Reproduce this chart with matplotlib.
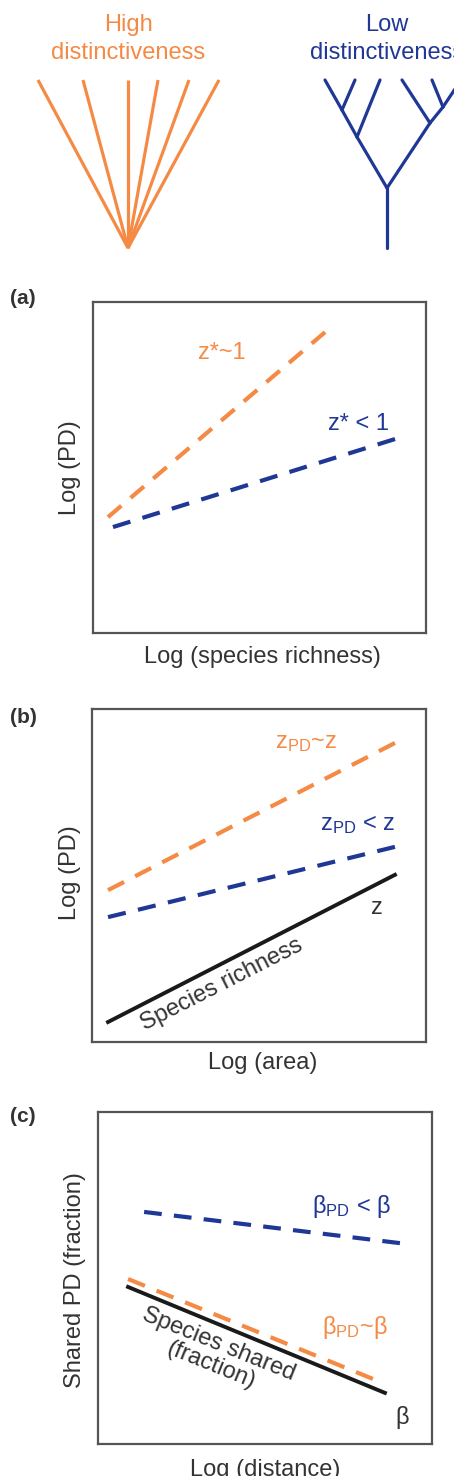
import matplotlib
matplotlib.use('Agg')
import matplotlib.pyplot as plt
import numpy as np

plt.rcParams['font.family'] = ['Liberation Sans', 'DejaVu Sans']
plt.rcParams['mathtext.fontset'] = 'custom'
plt.rcParams['mathtext.rm'] = 'Liberation Sans'

orange = '#f58a45'
blue = '#1f3795'
black = '#1a1a1a'
grey = '#333333'
W, H = 454, 1476

######################## data ##############################

# star tree (high distinctiveness): tips fan out from a single root
star_root = (128, 248)
star_tips_x = [38, 83, 128, 158, 189, 219]
star_tips_y = 80

# nested tree (low distinctiveness): node positions and edges
tree_nodes = {
    'root': (387, 248), 'n0': (387, 188),
    'A': (357, 137), 'B': (342, 110), 'C': (430, 123), 'D': (443, 107),
    't1': (325, 80), 't2': (355, 80), 't3': (380, 80),
    't4': (402, 80), 't5': (432, 80), 't6': (461, 80),
}
tree_edges = [('root', 'n0'), ('n0', 'A'), ('A', 'B'), ('B', 't1'), ('B', 't2'),
              ('A', 't3'), ('n0', 'C'), ('C', 't4'), ('C', 'D'), ('D', 't5'), ('D', 't6')]

# panel (a): log PD vs log species richness
a_x = [0.045, 0.697]
a_high = [0.35, 0.909]
a_x_low = [0.06, 0.907]
a_low = [0.32, 0.586]

# panel (b): log PD vs log area
b_x = [0.048, 0.907]
b_high = [0.456, 0.898]
b_low = [0.375, 0.586]
b_species = [0.06, 0.502]

# panel (c): shared fraction vs log distance
c_x_low = [0.138, 0.904]
c_low = [0.699, 0.605]
c_x_high = [0.09, 0.823]
c_high = [0.497, 0.196]
c_x_species = [0.09, 0.859]
c_species = [0.473, 0.154]

fig = plt.figure(figsize=(W / 100, H / 100), dpi=100)

######################## trees ##############################

tree_ax = fig.add_axes([0, 1 - 260 / H, 1, 260 / H])
tree_ax.set_xlim(0, W)
tree_ax.set_ylim(260, 0)
tree_ax.axis('off')

for tx in star_tips_x:
    tree_ax.plot([star_root[0], tx], [star_root[1], star_tips_y], color=orange, lw=2.3,
                 solid_capstyle='butt')

for p, c in tree_edges:
    x0, y0 = tree_nodes[p]
    x1, y1 = tree_nodes[c]
    tree_ax.plot([x0, x1], [y0, y1], color=blue, lw=2.3, solid_capstyle='round', clip_on=False)

tree_ax.text(128, 25, 'High', color=orange, fontsize=17, ha='center', va='center')
tree_ax.text(128, 53, 'distinctiveness', color=orange, fontsize=17, ha='center', va='center')
tree_ax.text(387, 25, 'Low', color=blue, fontsize=17, ha='center', va='center')
tree_ax.text(387, 53, 'distinctiveness', color=blue, fontsize=17, ha='center', va='center',
             clip_on=False)


def make_panel(left, right, top, bottom):
    ax = fig.add_axes([left / W, 1 - bottom / H, (right - left) / W, (bottom - top) / H])
    ax.set_xlim(0, 1)
    ax.set_ylim(0, 1)
    ax.set_xticks([])
    ax.set_yticks([])
    for s in ax.spines.values():
        s.set_color('#555555')
        s.set_linewidth(1.6)
    return ax


def dashed(ax, x, y, color, lw=3.0, on=4.2, off=2.9):
    # stretch the dash pattern a little so the line starts and ends on a dash
    p = ax.transData.transform(np.column_stack([x, y]))
    length = np.hypot(*(p[1] - p[0])) * 72 / fig.dpi / lw
    n = max(2, round((length + off) / (on + off)))
    k = length / (n * on + (n - 1) * off)
    ax.plot(x, y, color=color, lw=lw, dashes=(on * k, off * k))


######################## (a) ##############################

ax = make_panel(93, 426, 302, 633)
dashed(ax, a_x, a_high, orange)
dashed(ax, a_x_low, a_low, blue)
ax.text(0.387, 0.846, 'z*~1', color=orange, fontsize=17, ha='center', va='center')
ax.text(0.796, 0.631, 'z* < 1', color=blue, fontsize=17, ha='center', va='center')
ax.text(-0.069, 0.5, 'Log (PD)', rotation=90, fontsize=17, color=grey, ha='center', va='center',
        transform=ax.transAxes)
ax.text(0.508, -0.073, 'Log (species richness)', fontsize=17, color=grey, ha='center', va='center',
        transform=ax.transAxes)
fig.text(10 / W, 1 - 298 / H, '(a)', fontsize=15, fontweight='bold', color=grey, va='center')

######################## (b) ##############################

ax = make_panel(92, 426, 709, 1042)
dashed(ax, b_x, b_high, orange)
dashed(ax, b_x, b_low, blue)
ax.plot(b_x, b_species, color=black, lw=2.8)
ax.text(0.64, 0.898, r'z$\mathregular{_{PD}}$~z', color=orange, fontsize=17, ha='center', va='center')
ax.text(0.796, 0.652, r'z$\mathregular{_{PD}}$ < z', color=blue, fontsize=17, ha='center', va='center')
ax.text(0.853, 0.402, 'z', color=grey, fontsize=17, ha='center', va='center')
ax.text(0.389, 0.172, 'Species richness', color=grey, fontsize=17, ha='center', va='center',
        rotation=27, rotation_mode='anchor')
ax.text(-0.066, 0.51, 'Log (PD)', rotation=90, fontsize=17, color=grey, ha='center', va='center',
        transform=ax.transAxes)
ax.text(0.51, -0.062, 'Log (area)', fontsize=17, color=grey, ha='center', va='center',
        transform=ax.transAxes)
fig.text(10 / W, 1 - 717 / H, '(b)', fontsize=15, fontweight='bold', color=grey, va='center')

######################## (c) ##############################

ax = make_panel(98, 432, 1112, 1444)
dashed(ax, c_x_low, c_low, blue)
dashed(ax, c_x_high, c_high, orange)
ax.plot(c_x_species, c_species, color=black, lw=2.8)
ax.text(0.76, 0.714, 'β$\\mathregular{_{PD}}$ < β', color=blue, fontsize=17, ha='center', va='center')
ax.text(0.77, 0.352, 'β$\\mathregular{_{PD}}$~β', color=orange, fontsize=17, ha='center', va='center')
ax.text(0.91, 0.081, 'β', color=grey, fontsize=17, ha='center', va='center')
ax.text(0.35, 0.268, 'Species shared\n(fraction)', color=grey, fontsize=17, ha='center',
        va='center', rotation=-22, rotation_mode='anchor', linespacing=1.0)
ax.text(-0.069, 0.494, 'Shared PD (fraction)', rotation=90, fontsize=17, color=grey, ha='center',
        va='center', transform=ax.transAxes)
ax.text(0.5, -0.078, 'Log (distance)', fontsize=17, color=grey, ha='center', va='center',
        transform=ax.transAxes)
fig.text(10 / W, 1 - 1117 / H, '(c)', fontsize=15, fontweight='bold', color=grey, va='center')

fig.savefig('out.png', dpi=100)
